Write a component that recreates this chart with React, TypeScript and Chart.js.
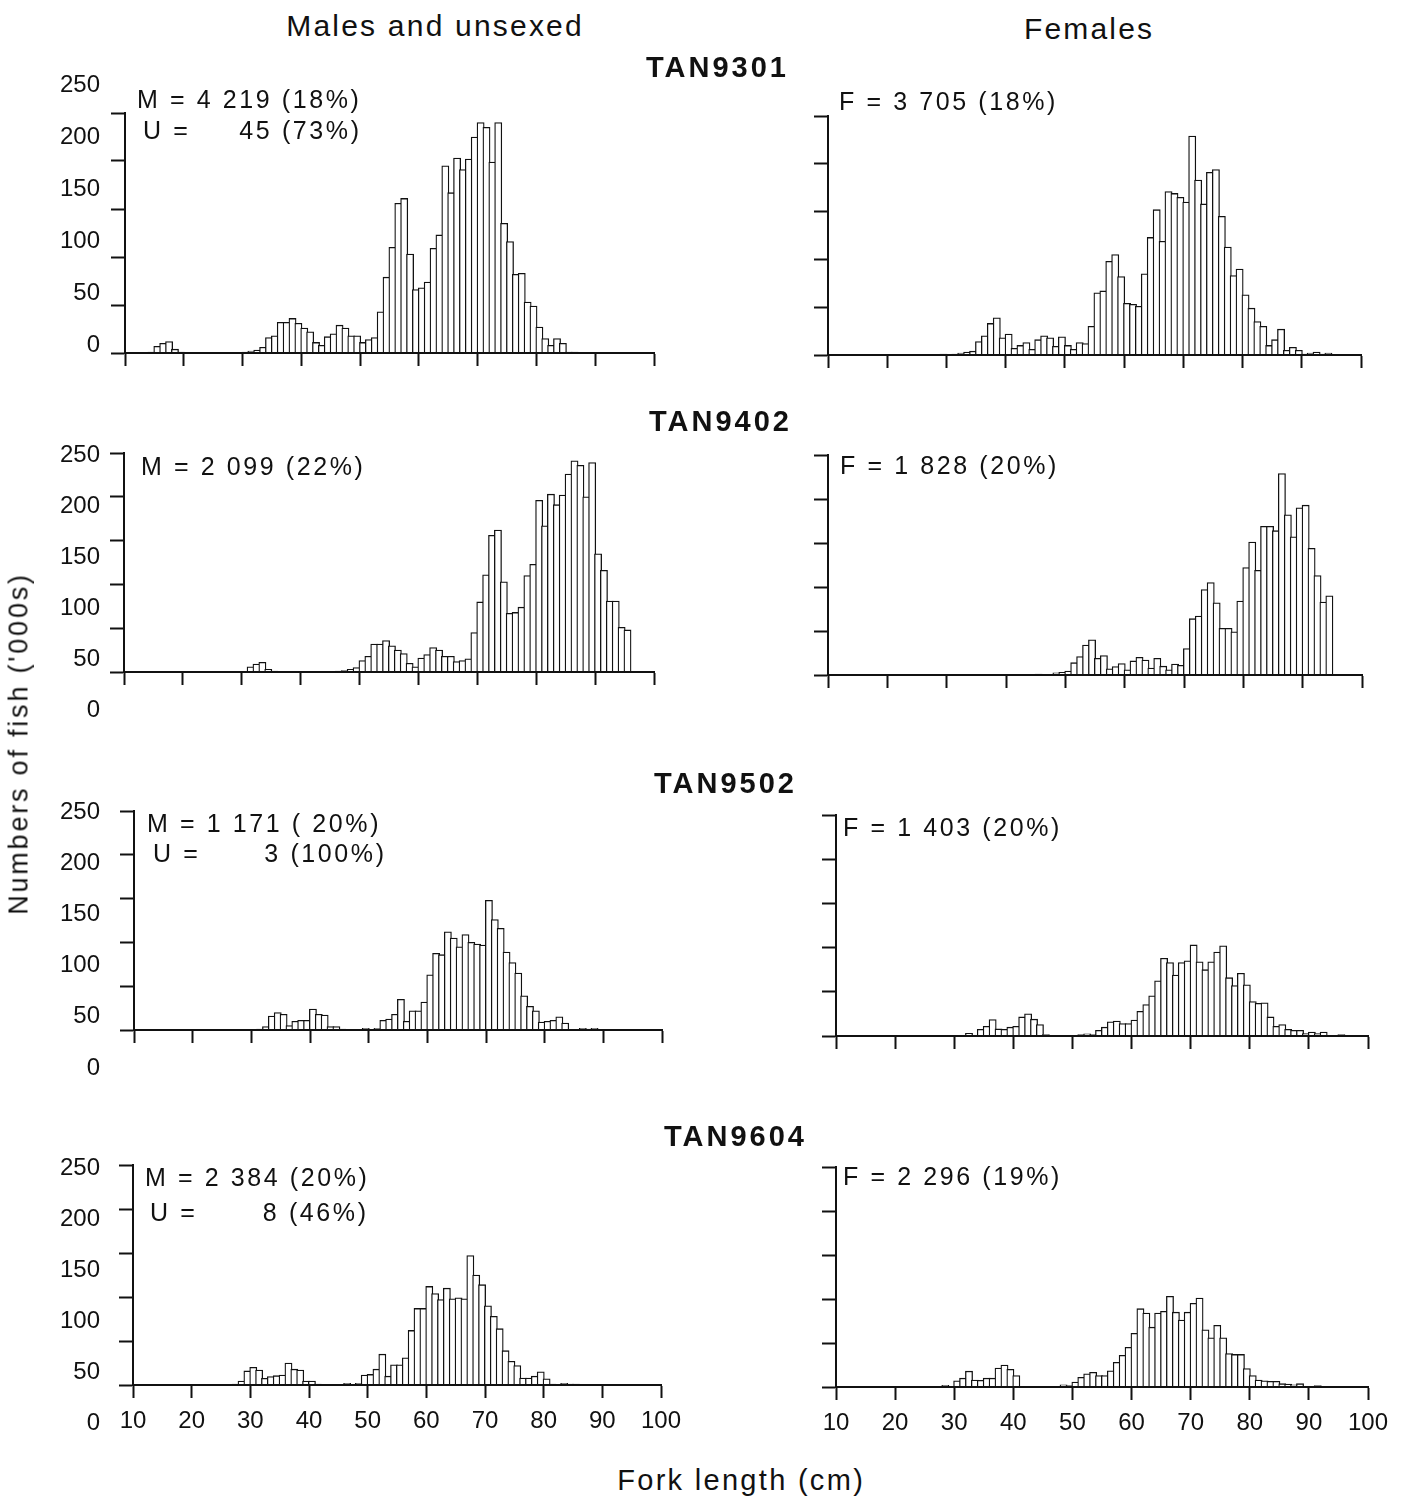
import React, { useEffect, useRef } from 'react';
import { Chart, registerables } from 'chart.js';

Chart.register(...registerables);

const FONT = "'Liberation Sans', Arial, Helvetica, sans-serif";
const INK = '#111';

// First fork-length class (cm); each array below holds 90 one-centimetre classes, 10–99 cm.
const LENGTH_START = 10;
const X_TICKS = [10, 20, 30, 40, 50, 60, 70, 80, 90, 100];
const Y_TICKS = [0, 50, 100, 150, 200, 250];

// Numbers of fish ('000s) by fork length
const TAN9301_MALES = [
  0, 0, 0, 0, 1, 7, 10, 12, 4, 1,
  0.5, 0.3, 0, 0, 0, 0, 0, 0, 0, 0.5,
  1, 2, 3, 6, 16, 18, 32, 32, 36, 31,
  26, 22, 11, 8, 17, 20, 29, 26, 18, 18,
  11, 14, 16, 43, 79, 110, 156, 161, 103, 66,
  68, 74, 109, 123, 195, 167, 203, 191, 202, 225,
  240, 235, 199, 240, 135, 116, 82, 83, 53, 49,
  27, 15, 8, 15, 10, 1, 1, 0.5, 0.3, 0,
  0, 0, 0, 0, 0, 0, 0, 0, 0, 0,
];
const TAN9301_FEMALES = [
  0, 0, 0, 0, 0, 0, 0, 0, 0, 0,
  0, 0, 0, 0, 0, 0, 0, 0, 0, 1,
  0.5, 1, 2, 3, 4, 14, 20, 33, 39, 18,
  22, 7, 10, 13, 6, 16, 20, 18, 9, 19,
  10, 6, 13, 12, 30, 65, 67, 98, 105, 82,
  54, 53, 51, 85, 123, 152, 119, 171, 169, 165,
  160, 229, 183, 158, 191, 194, 145, 113, 83, 90,
  63, 49, 35, 30, 10, 16, 27, 5, 8, 5,
  1, 2, 3, 1, 2, 0.5, 0, 0, 0, 0,
];
const TAN9402_MALES = [
  0, 0, 0, 0, 0, 0, 0, 0, 0, 0,
  0, 0, 0, 0, 0, 0, 0, 0, 0, 0,
  0, 6, 9, 11, 3, 1, 0.5, 0.5, 0, 0,
  0, 0, 0, 0, 0, 0, 1, 1.5, 3, 5,
  13, 18, 32, 32, 36, 30, 25, 21, 10, 6,
  16, 20, 28, 25, 18, 18, 12, 13, 15, 45,
  80, 111, 156, 162, 103, 67, 68, 74, 110, 123,
  196, 167, 203, 191, 202, 226, 241, 236, 200, 239,
  135, 116, 81, 81, 51, 48, 0, 0, 0, 0,
];
const TAN9402_FEMALES = [
  0, 0, 0, 0, 0, 0, 0, 0, 0, 0,
  0, 0, 0, 0, 0, 0, 0, 0, 0, 0,
  0, 0, 0, 0, 0, 0, 0, 0, 0, 0,
  0, 0, 0, 0, 0, 1, 0, 0, 2.5, 3,
  4.5, 14, 21, 34, 40, 19, 22, 7, 9.5, 13,
  6, 16, 20, 17, 8, 19, 10, 6, 12.5, 11,
  30, 64, 67, 97, 105, 82, 53, 53, 49, 84,
  122, 151, 119, 169, 169, 164, 229, 182, 157, 190,
  193, 144, 113, 83, 90, 0, 0, 0, 0, 0,
];
const TAN9502_MALES = [
  0, 0, 0, 0, 0, 0, 0, 0, 0, 0,
  0, 0, 0, 0, 0, 0, 0, 0, 0, 0,
  0, 1, 4, 16, 20, 18, 5, 10, 11, 11,
  24, 18, 17, 4, 4, 1, 0.5, 0, 0, 2,
  0.5, 2, 11, 12.5, 18, 35, 10, 22, 22, 32,
  63, 87.5, 86, 112, 105, 95, 109, 100, 98, 97,
  148, 126, 116, 89, 77, 65, 39, 27, 22, 9,
  10, 11, 15, 8, 0.5, 0, 2, 1, 2, 0,
  0, 0, 0, 0, 0, 0, 0, 0, 0, 0,
];
const TAN9502_FEMALES = [
  0, 0, 0, 0, 0, 0, 0, 0, 0, 0,
  0, 0, 0, 0, 0, 0, 0, 0, 0, 0,
  0, 0, 3, 0, 7.5, 11, 18.5, 8, 7.5, 10,
  11, 21.6, 25, 19, 13, 1.5, 0.5, 0.5, 0.3, 0.3,
  0.5, 1.5, 2.5, 1.5, 6.5, 10, 16, 17, 14, 14,
  18, 28, 35.6, 45.5, 62.5, 88, 83, 69, 83, 85,
  103, 84, 75, 84, 95, 102, 66, 57, 71, 58,
  39, 37, 37.5, 21.6, 11, 13, 7.5, 6.4, 6.4, 2.7,
  4.5, 2.7, 4.5, 0, 0, 1.5, 0, 0, 0, 0,
];
const TAN9604_MALES = [
  0, 0, 0, 0, 0, 0, 0, 0, 0, 0,
  0, 0, 0, 0, 0, 0, 0, 1, 4.5, 16,
  20, 17, 7.5, 9.5, 10.6, 11.4, 25, 18, 17, 4.5,
  4.5, 1, 0.5, 0.5, 0, 0.5, 2, 0.5, 2, 11.4,
  12, 18, 35, 10, 23, 23, 31, 62, 87, 87,
  112, 104, 97, 110, 98, 99, 98, 147, 125, 114,
  90, 78, 64, 39, 27, 22, 8, 8, 10, 15,
  7, 1, 0.5, 2, 1, 1, 0.5, 0, 0, 0,
  0, 0, 0, 0, 0, 0, 0, 0, 0, 0,
];
const TAN9604_FEMALES = [
  0, 0, 0, 0, 0, 0, 0, 0, 0, 0,
  0, 0, 0, 0, 0, 0, 0, 0, 2, 0,
  7, 10, 18, 8, 7.5, 10, 10, 21.6, 25, 20,
  13, 0.8, 0.5, 0.3, 0.3, 0.3, 0.3, 0.5, 2.5, 1.5,
  5.7, 11, 15, 16.7, 13, 13, 18.5, 28, 36, 45,
  61, 89, 84, 68, 84, 86, 103, 85, 76, 85,
  95, 101, 65, 56, 70, 56, 38, 37, 37, 21,
  13, 8, 7, 6.4, 6.4, 3.8, 3.4, 2.6, 3.8, 0.5,
  0.3, 1.5, 0, 0, 0, 0, 0, 0, 0, 0,
];

type Panel = {
  key: string;
  values: number[];
  x0: number; // pixel of 10 cm
  x1: number; // pixel of 100 cm
  yTop: number; // pixel of 250
  yBase: number; // pixel of 0
  yLabels?: { p250: number; p0: number }; // where the printed 250 and 0 labels sit
  xLabels: boolean;
};

const PANELS: Panel[] = [
  { key: 'm9301', values: TAN9301_MALES, x0: 125, x1: 654, yTop: 113, yBase: 353, yLabels: { p250: 85, p0: 345 }, xLabels: false },
  { key: 'f9301', values: TAN9301_FEMALES, x0: 828, x1: 1361, yTop: 116, yBase: 355, xLabels: false },
  { key: 'm9402', values: TAN9402_MALES, x0: 124, x1: 654, yTop: 453, yBase: 672, yLabels: { p250: 455, p0: 710 }, xLabels: false },
  { key: 'f9402', values: TAN9402_FEMALES, x0: 828, x1: 1362, yTop: 455, yBase: 675, xLabels: false },
  { key: 'm9502', values: TAN9502_MALES, x0: 134, x1: 662, yTop: 811, yBase: 1030, yLabels: { p250: 812, p0: 1068 }, xLabels: false },
  { key: 'f9502', values: TAN9502_FEMALES, x0: 836, x1: 1368, yTop: 815, yBase: 1036, xLabels: false },
  { key: 'm9604', values: TAN9604_MALES, x0: 133, x1: 661, yTop: 1165, yBase: 1385, yLabels: { p250: 1168, p0: 1423 }, xLabels: true },
  { key: 'f9604', values: TAN9604_FEMALES, x0: 836, x1: 1368, yTop: 1167, yBase: 1387, xLabels: true },
];

const PAD_TOP = 50;
const PAD_BOTTOM = 60;
const PAD_RIGHT = 30;
const LABEL_LEFT = 40;
const Y_TICK_LEN = 14;
const LABEL_RIGHT_EDGE = 100;
const BAR_LINE = 1.3;

const zeroPadding = (s: any) => {
  s.paddingLeft = 0;
  s.paddingRight = 0;
  s.paddingTop = 0;
  s.paddingBottom = 0;
};

function HistogramPanel({ p }: { p: Panel }) {
  const ref = useRef<HTMLCanvasElement | null>(null);
  const hasY = !!p.yLabels;
  const left = hasY ? LABEL_LEFT : p.x0 - 20;
  const top = p.yTop - PAD_TOP;
  const width = p.x1 + PAD_RIGHT - left;
  const height = p.yBase - p.yTop + PAD_TOP + PAD_BOTTOM;

  useEffect(() => {
    if (!ref.current) return;
    const pxPerCm = (p.x1 - p.x0) / 90;
    const data = p.values
      .map((v, i) => ({ x: LENGTH_START + i + 0.5, y: v }))
      .filter((d) => d.y > 0);

    const scales: any = {
      x: {
        type: 'linear',
        position: 'bottom',
        min: 10,
        max: 100,
        offset: false,
        afterBuildTicks: (s: any) => {
          s.ticks = X_TICKS.map((v) => ({ value: v }));
        },
        ticks: {
          display: p.xLabels,
          autoSkip: false,
          maxRotation: 0,
          padding: 9,
          color: INK,
          font: { family: FONT, size: 24 },
          callback: (v: any) => String(v),
        },
        grid: {
          display: true,
          offset: false,
          drawOnChartArea: false,
          drawTicks: true,
          tickLength: 13,
          tickWidth: 2,
          tickColor: INK,
        },
        border: { display: true, color: INK, width: 2, z: 1 },
        afterFit: (s: any) => {
          s.height = PAD_BOTTOM;
          zeroPadding(s);
        },
      },
      y: {
        type: 'linear',
        position: 'left',
        weight: 0,
        min: 0,
        max: 250,
        afterBuildTicks: (s: any) => {
          s.ticks = Y_TICKS.map((v) => ({ value: v }));
        },
        ticks: { display: false },
        grid: {
          display: true,
          drawOnChartArea: false,
          drawTicks: true,
          tickLength: Y_TICK_LEN,
          tickWidth: 2,
          tickColor: INK,
        },
        border: { display: true, color: INK, width: 2, z: 1 },
        afterFit: (s: any) => {
          s.width = hasY ? Y_TICK_LEN : 20;
          zeroPadding(s);
        },
      },
    };

    if (p.yLabels) {
      // Printed value scale: its own spacing, with 0 set below the axis line
      const { p250, p0 } = p.yLabels;
      const pxPerUnit = (p0 - p250) / 250;
      scales.yl = {
        type: 'linear',
        position: 'left',
        weight: 1,
        bounds: 'data',
        min: (p0 - p.yBase) / pxPerUnit,
        max: (p0 - p.yTop) / pxPerUnit,
        afterBuildTicks: (s: any) => {
          s.ticks = Y_TICKS.map((v) => ({ value: v }));
        },
        ticks: {
          display: true,
          autoSkip: false,
          padding: p.x0 - Y_TICK_LEN - LABEL_RIGHT_EDGE,
          color: INK,
          font: { family: FONT, size: 24 },
          callback: (v: any) => String(v),
        },
        grid: { display: false, drawTicks: false, drawOnChartArea: false },
        border: { display: false },
        afterFit: (s: any) => {
          s.width = p.x0 - left - Y_TICK_LEN;
          zeroPadding(s);
        },
      };
    }

    const chart = new Chart(ref.current, {
      type: 'bar',
      data: {
        datasets: [
          {
            data,
            xAxisID: 'x',
            yAxisID: 'y',
            backgroundColor: '#ffffff',
            borderColor: INK,
            borderWidth: BAR_LINE,
            borderSkipped: 'start',
            barThickness: pxPerCm + BAR_LINE,
            categoryPercentage: 1,
            barPercentage: 1,
          } as any,
        ],
      },
      options: {
        responsive: false,
        maintainAspectRatio: false,
        animation: false,
        devicePixelRatio: 1,
        layout: { padding: { top: PAD_TOP, right: PAD_RIGHT, bottom: 0, left: 0 } },
        plugins: {
          legend: { display: false },
          tooltip: { enabled: false },
          title: { display: false },
        },
        events: [],
        scales,
      } as any,
    });
    return () => chart.destroy();
  }, [p]);

  return (
    <div style={{ position: 'absolute', left, top, width, height }}>
      <canvas ref={ref} width={width} height={height} style={{ display: 'block', width, height }} />
    </div>
  );
}

type TextProps = {
  text: string;
  x: number;
  baseline: number;
  size: number;
  spacing?: number;
  bold?: boolean;
  align?: 'left' | 'center' | 'right';
};

function Txt({ text, x, baseline, size, spacing = 0, bold = false, align = 'left' }: TextProps) {
  const top = baseline - 0.8465 * size;
  const base: React.CSSProperties = {
    position: 'absolute',
    top,
    fontFamily: FONT,
    fontSize: size,
    lineHeight: `${size}px`,
    letterSpacing: spacing,
    fontWeight: bold ? 700 : 400,
    whiteSpace: 'pre',
    color: INK,
  };
  if (align === 'center') {
    return <div style={{ ...base, left: x - 400 + spacing / 2, width: 800, textAlign: 'center' }}>{text}</div>;
  }
  if (align === 'right') {
    return <div style={{ ...base, left: x - 400 + spacing, width: 400, textAlign: 'right' }}>{text}</div>;
  }
  return <div style={{ ...base, left: x }}>{text}</div>;
}

const NOTE = 25;
const NOTE_SP = 2.6;

export default function App() {
  return (
    <div
      style={{
        position: 'absolute',
        left: 0,
        top: 0,
        width: 1406,
        height: 1502,
        background: '#ffffff',
        overflow: 'hidden',
      }}
    >
      {PANELS.map((p) => (
        <HistogramPanel key={p.key} p={p} />
      ))}

      <Txt text="Males and unsexed" x={434} baseline={36} size={30} spacing={2.2} align="center" />
      <Txt text="Females" x={1088} baseline={39} size={30} spacing={2.2} align="center" />

      <Txt text="TAN9301" x={716} baseline={78} size={29} spacing={3} bold align="center" />
      <Txt text="TAN9402" x={719} baseline={432} size={29} spacing={3} bold align="center" />
      <Txt text="TAN9502" x={724} baseline={794} size={29} spacing={3} bold align="center" />
      <Txt text="TAN9604" x={734} baseline={1147} size={29} spacing={3} bold align="center" />

      <Txt text="M = 4 219 (18%)" x={137} baseline={108} size={NOTE} spacing={NOTE_SP} />
      <Txt text="U =" x={143} baseline={139} size={NOTE} spacing={NOTE_SP} />
      <Txt text="45 (73%)" x={359} baseline={139} size={NOTE} spacing={NOTE_SP} align="right" />
      <Txt text="F = 3 705 (18%)" x={839} baseline={110} size={NOTE} spacing={NOTE_SP} />

      <Txt text="M = 2 099 (22%)" x={141} baseline={475} size={NOTE} spacing={NOTE_SP} />
      <Txt text="F = 1 828 (20%)" x={840} baseline={474} size={NOTE} spacing={NOTE_SP} />

      <Txt text="M = 1 171 ( 20%)" x={147} baseline={832} size={NOTE} spacing={NOTE_SP} />
      <Txt text="U =" x={153} baseline={862} size={NOTE} spacing={NOTE_SP} />
      <Txt text="3 (100%)" x={384} baseline={862} size={NOTE} spacing={NOTE_SP} align="right" />
      <Txt text="F = 1 403 (20%)" x={843} baseline={836} size={NOTE} spacing={NOTE_SP} />

      <Txt text="M = 2 384 (20%)" x={145} baseline={1186} size={NOTE} spacing={NOTE_SP} />
      <Txt text="U =" x={150} baseline={1221} size={NOTE} spacing={NOTE_SP} />
      <Txt text="8 (46%)" x={366} baseline={1221} size={NOTE} spacing={NOTE_SP} align="right" />
      <Txt text="F = 2 296 (19%)" x={843} baseline={1185} size={NOTE} spacing={NOTE_SP} />

      <div
        style={{
          position: 'absolute',
          left: 19 - 300,
          top: 743 - 27 / 2,
          width: 600,
          textAlign: 'center',
          fontFamily: FONT,
          fontSize: 27,
          lineHeight: '27px',
          letterSpacing: 2.8,
          whiteSpace: 'pre',
          color: INK,
          transform: 'rotate(-90deg)',
          transformOrigin: '50% 50%',
        }}
      >
        Numbers of fish ('000s)
      </div>

      <Txt text="Fork length (cm)" x={740} baseline={1491} size={29} spacing={2.3} align="center" />
    </div>
  );
}
